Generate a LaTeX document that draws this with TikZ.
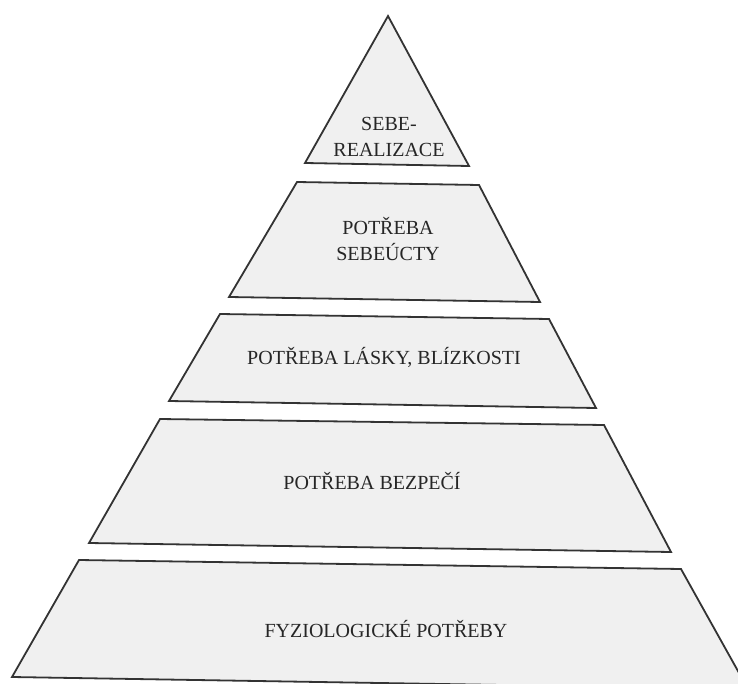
\documentclass[tikz,border=0pt]{standalone}
\usepackage{fontspec}
\setmainfont{Liberation Serif}
\begin{document}
\begin{tikzpicture}[x=1pt,y=-1pt,
  layer/.style={draw=black!80, line width=1.8pt, fill=black!6, line join=miter},
  lbl/.style={font=\fontsize{20}{26}\selectfont, text=black!85, align=center, inner sep=0pt}]
\useasboundingbox (0,0) rectangle (738,684);
\clip (0,0) rectangle (738,684);
% corner coordinates
\coordinate (t1) at (388,16);
\coordinate (t2) at (469,166);
\coordinate (t3) at (305,163);
\coordinate (a1) at (297,182); \coordinate (a2) at (479,185);
\coordinate (a3) at (540,302); \coordinate (a4) at (229,297);
\coordinate (b1) at (220,314); \coordinate (b2) at (549,319);
\coordinate (b3) at (596,408); \coordinate (b4) at (169,401);
\coordinate (c1) at (160,419); \coordinate (c2) at (604,425);
\coordinate (c3) at (671,552); \coordinate (c4) at (89,543);
\coordinate (d1) at (79,560); \coordinate (d2) at (681,569);
\coordinate (d3) at (748,689); \coordinate (d4) at (12,677);
\draw[layer] (t1) -- (t2) -- (t3) -- cycle;
\draw[layer] (a1) -- (a2) -- (a3) -- (a4) -- cycle;
\draw[layer] (b1) -- (b2) -- (b3) -- (b4) -- cycle;
\draw[layer] (c1) -- (c2) -- (c3) -- (c4) -- cycle;
\draw[layer] (d1) -- (d2) -- (d3) -- (d4) -- cycle;
\node[lbl] (sebe) at (389,137) {SEBE-\\REALIZACE};
\node[lbl] (ucta) at (388,239) {POTŘEBA\\SEBEÚCTY};
\node[lbl] (laska) at (384,357) {POTŘEBA LÁSKY, BLÍZKOSTI};
\node[lbl] (bezp) at (372,481) {POTŘEBA BEZPEČÍ};
\node[lbl] (fyz) at (386,629) {FYZIOLOGICKÉ POTŘEBY};
\end{tikzpicture}
\end{document}
